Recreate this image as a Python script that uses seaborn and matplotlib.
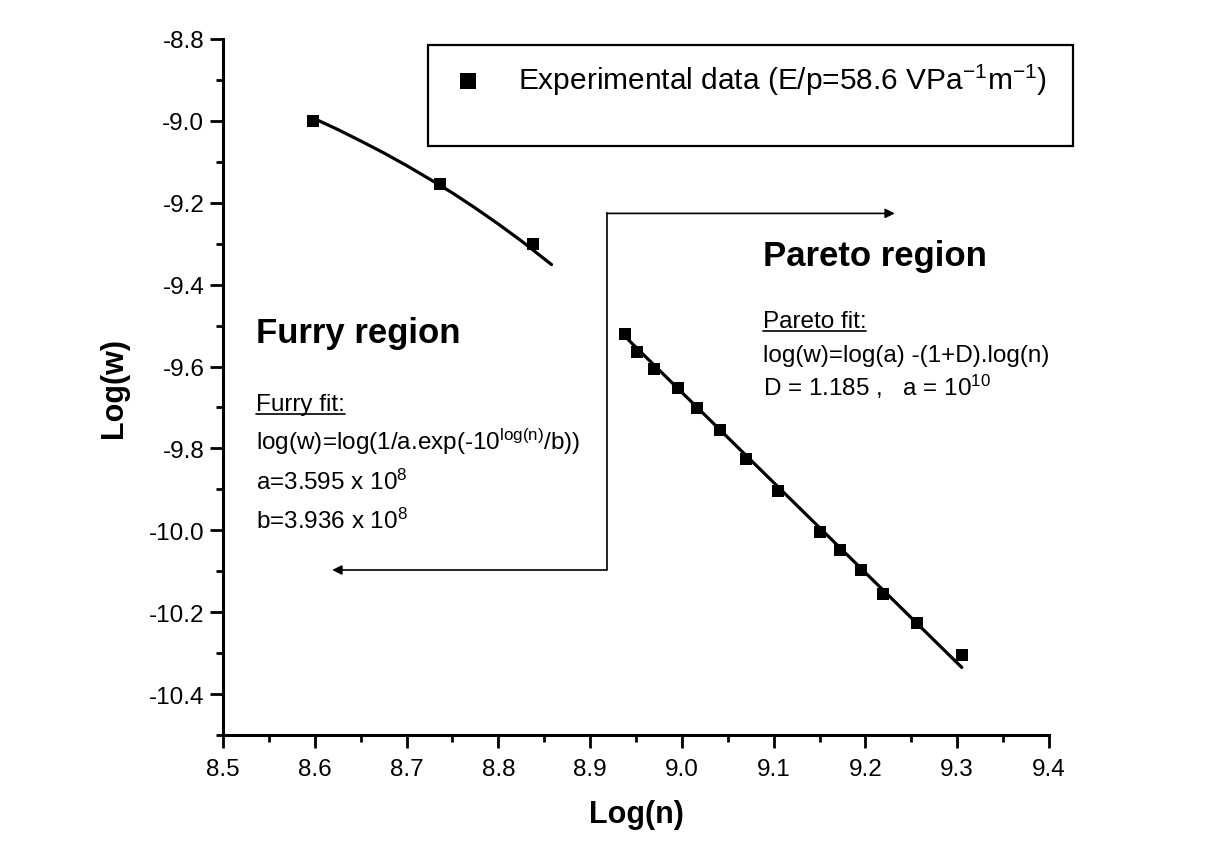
import matplotlib
matplotlib.use('Agg')
import matplotlib.pyplot as plt
from matplotlib.ticker import MultipleLocator, FixedLocator, FormatStrFormatter
from matplotlib.lines import Line2D
from matplotlib.patches import Rectangle
import seaborn as sns

# ---------------- data ----------------
furry_x = [8.598, 8.736, 8.838]
furry_y = [-9.000, -9.155, -9.300]

pareto_x = [8.938, 8.951, 8.970, 8.996, 9.016, 9.041, 9.070,
            9.105, 9.150, 9.172, 9.195, 9.219, 9.256, 9.305]
pareto_y = [-9.521, -9.565, -9.606, -9.653, -9.702, -9.756, -9.825,
            -9.905, -10.003, -10.048, -10.097, -10.155, -10.227, -10.305]

furry_fit_x = [8.598, 8.625, 8.650, 8.675, 8.700, 8.725, 8.750,
               8.775, 8.800, 8.825, 8.858]
furry_fit_y = [-8.993, -9.021, -9.049, -9.078, -9.109, -9.142, -9.176,
               -9.213, -9.252, -9.293, -9.351]

pareto_fit_x = [8.935, 9.305]
pareto_fit_y = [-9.520, -10.335]

x_ticks = [8.5, 8.6, 8.7, 8.8, 8.9, 9.0, 9.1, 9.2, 9.3, 9.4]
y_ticks = [-10.4, -10.2, -10.0, -9.8, -9.6, -9.4, -9.2, -9.0, -8.8]

legend_label = 'Experimental data (E/p=58.6 VPa$^{-1}$m$^{-1}$)'

# ---------------- style ----------------
sns.set_style('ticks')
plt.rcParams['font.family'] = ['Liberation Sans', 'DejaVu Sans']
plt.rcParams['mathtext.fontset'] = 'custom'
plt.rcParams['mathtext.rm'] = 'Liberation Sans'
plt.rcParams['mathtext.it'] = 'Liberation Sans'
plt.rcParams['mathtext.default'] = 'regular'
plt.rcParams['text.color'] = 'black'
plt.rcParams['axes.labelcolor'] = 'black'

fig = plt.figure(figsize=(12.08, 8.45), dpi=100, facecolor='white')
ax = fig.add_axes([223 / 1208, 1 - 736 / 845, 826 / 1208, 696 / 845])
ax.set_facecolor('white')

# fits
sns.lineplot(x=furry_fit_x, y=furry_fit_y, ax=ax, color='black', lw=2.3,
             sort=False, estimator=None)
sns.lineplot(x=pareto_fit_x, y=pareto_fit_y, ax=ax, color='black', lw=2.3,
             sort=False, estimator=None)
# data
sns.scatterplot(x=furry_x + pareto_x, y=furry_y + pareto_y, ax=ax,
                marker='s', s=80, color='black', linewidth=0, zorder=3,
                label=legend_label)

ax.set_xlim(8.5, 9.4)
ax.set_ylim(-10.5, -8.8)
ax.xaxis.set_major_locator(FixedLocator(x_ticks))
ax.yaxis.set_major_locator(FixedLocator(y_ticks))
ax.xaxis.set_minor_locator(MultipleLocator(0.05))
ax.yaxis.set_minor_locator(MultipleLocator(0.1))
ax.xaxis.set_major_formatter(FormatStrFormatter('%.1f'))
ax.yaxis.set_major_formatter(FormatStrFormatter('%.1f'))

sns.despine(ax=ax)
for sp in ['left', 'bottom']:
    ax.spines[sp].set_linewidth(2.2)
    ax.spines[sp].set_color('black')

ax.tick_params(which='major', direction='out', length=9.5, width=2.0,
               color='black', labelsize=17.5, labelcolor='black')
ax.tick_params(which='minor', direction='out', length=5, width=2.0,
               color='black')
ax.tick_params(axis='x', which='major', pad=7)
ax.tick_params(axis='y', which='major', pad=4)

ax.set_xlabel('Log(n)', fontsize=22, fontweight='bold', labelpad=14,
              color='black')
ax.set_ylabel('Log(w)', fontsize=22, fontweight='bold', labelpad=14,
              color='black')

# legend frame and entry
ax.add_patch(Rectangle((0.248, 0.846), 0.781, 0.145, transform=ax.transAxes,
                       fill=False, lw=1.6, edgecolor='black', clip_on=False,
                       zorder=4))
leg = ax.legend(loc='center left', bbox_to_anchor=(0.279, 0.9425),
                frameon=False, fontsize=21.5, borderpad=0, borderaxespad=0,
                handlelength=1.0, handletextpad=1.15, markerscale=1.3,
                scatterpoints=1)
for txt in leg.get_texts():
    txt.set_color('black')

# arrows
ax.plot([8.918, 8.918], [-9.226, -10.097], color='black', lw=1.2)
ax.annotate('', xy=(9.232, -9.226), xytext=(8.918, -9.226),
            arrowprops=dict(arrowstyle='-|>', lw=1.2, color='black',
                            mutation_scale=14, shrinkA=0, shrinkB=0))
ax.annotate('', xy=(8.619, -10.097), xytext=(8.918, -10.097),
            arrowprops=dict(arrowstyle='-|>', lw=1.2, color='black',
                            mutation_scale=14, shrinkA=0, shrinkB=0))

# annotations
ax.text(8.536, -9.540, 'Furry region', fontsize=25, fontweight='bold',
        va='baseline', ha='left', color='black')
t_ff = ax.text(8.536, -9.707, 'Furry fit:', fontsize=17.5, va='baseline',
               color='black')
ax.text(8.536, -9.802, 'log(w)=log(1/a.exp(-10$^{log(n)}$/b))', fontsize=17.5,
        va='baseline', color='black')
ax.text(8.536, -9.900, 'a=3.595 x 10$^{8}$', fontsize=17.5, va='baseline',
        color='black')
ax.text(8.536, -9.993, 'b=3.936 x 10$^{8}$', fontsize=17.5, va='baseline',
        color='black')

ax.text(9.088, -9.351, 'Pareto region', fontsize=25, fontweight='bold',
        va='baseline', ha='left', color='black')
t_pf = ax.text(9.088, -9.504, 'Pareto fit:', fontsize=17.5, va='baseline',
               color='black')
ax.text(9.088, -9.587, 'log(w)=log(a) -(1+D).log(n)', fontsize=17.5,
        va='baseline', color='black')
ax.text(9.088, -9.670, 'D = 1.185 ,   a = 10$^{10}$', fontsize=17.5,
        va='baseline', color='black')

# underline the "fit:" headings
fig.canvas.draw()
renderer = fig.canvas.get_renderer()
inv = fig.transFigure.inverted()
for t in (t_ff, t_pf):
    bb = t.get_window_extent(renderer)
    xb, yb = ax.transData.transform(t.get_position())
    p0 = inv.transform((bb.x0, yb - 4))
    p1 = inv.transform((bb.x1, yb - 4))
    fig.add_artist(Line2D([p0[0], p1[0]], [p0[1], p1[1]], color='black',
                          lw=1.2, transform=fig.transFigure))

fig.savefig('out.png', dpi=100, facecolor='white')
